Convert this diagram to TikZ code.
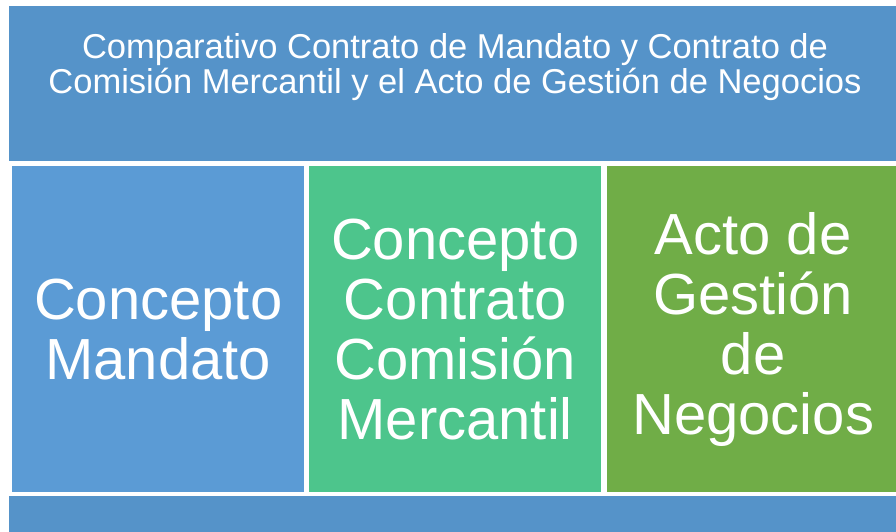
\documentclass[tikz,border=0pt]{standalone}
\usepackage{fontspec}
\setmainfont{Liberation Sans}
\definecolor{banner}{RGB}{85,147,201}
\definecolor{mandato}{RGB}{91,155,213}
\definecolor{comision}{RGB}{77,197,140}
\definecolor{gestion}{RGB}{112,173,71}
\tikzset{
  colbox/.style={anchor=north west, inner sep=0pt, minimum width=292pt, minimum height=326pt,
    text=white, align=center, font=\fontsize{58}{60}\selectfont}
}
\begin{document}
\begin{tikzpicture}[x=1pt,y=-1pt]
\useasboundingbox (0,0) rectangle (896,532);
%%% The banner on top and the strip below
\fill[banner] (9,6) rectangle (900,161);
\fill[banner] (9,496) rectangle (900,536);
\node[text=white, align=center, font=\fontsize{34.5}{35}\selectfont] (title) at (455,67)
{Comparativo Contrato de Mandato y Contrato de\\Comisión Mercantil y el Acto de Gestión de Negocios};
%%% The three columns
\node[colbox, fill=mandato] (mandato) at (12,166) {Concepto\\Mandato};
\node[colbox, fill=comision, minimum width=292pt] (comision) at (309,166)
{Concepto\\Contrato\\Comisión\\Mercantil};
% \node[colbox] ...
\node[colbox, fill=gestion, minimum width=292pt] (gestion) at (607,166)
{Acto de\\Gestión\\de\\Negocios};
\end{tikzpicture}
\end{document}
